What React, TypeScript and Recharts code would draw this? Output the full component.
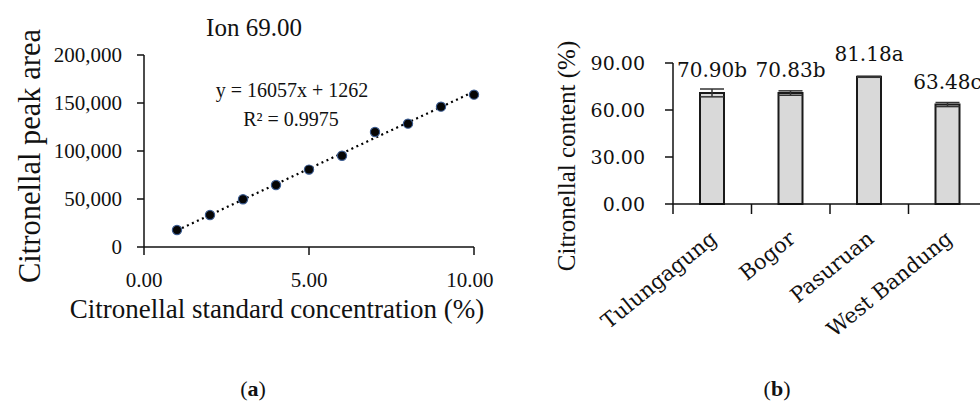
import React from 'react';
import {
  ComposedChart, Scatter, Line, XAxis, YAxis, BarChart, Bar, ErrorBar, LabelList,
} from 'recharts';

// (a) calibration curve, ion 69.00
const concentrations = [1, 2, 3, 4, 5, 6, 7, 8, 9, 10];
const peakAreas = [17700, 33300, 49700, 64600, 80600, 95100, 119800, 128500, 146200, 158700];
const slope = 16057;
const intercept = 1262;
const areaTicks = [0, 50000, 100000, 150000, 200000];
const concTicks = [0, 5, 10];

// (b) citronellal content by origin
const sites = ['Tulungagung', 'Bogor', 'Pasuruan', 'West Bandung'];
const contents = [70.9, 70.83, 81.18, 63.48];
const contentSd = [2.5, 1.4, 0.3, 1.3];
const letters = ['b', 'b', 'a', 'c'];
const contentTicks = [0, 30, 60, 90];

const calData = concentrations.map((c, i) => ({
  conc: c,
  area: peakAreas[i],
  fit: slope * c + intercept,
}));

const siteData = sites.map((s, i) => ({
  site: s,
  content: contents[i],
  sd: contentSd[i],
  label: contents[i].toFixed(2) + letters[i],
}));

const serif = '"Liberation Serif", "Times New Roman", serif';
const wide = '"DejaVu Serif", serif';
const ink = '#111';

const LW = 500, LH = 340;
const RW = 447, RH = 390, RY = 133;
const band = (RW - RY) / sites.length;

const Dot = (props: any) => {
  const { cx, cy } = props;
  if (cx == null || cy == null) return null;
  return <circle cx={cx} cy={cy} r={4.6} fill="#050505" stroke="#3b5b8f" strokeWidth={1.2} />;
};

const SiteTick = (props: any) => {
  const { x, y, payload } = props;
  const bx = x - band / 2;
  const tx = x + 6;
  const ty = y + 37;
  return (
    <g>
      <line x1={bx} y1={y} x2={bx} y2={y + 10} stroke={ink} strokeWidth={1.5} />
      <text
        x={tx}
        y={ty}
        textAnchor="end"
        transform={`rotate(-39 ${tx} ${ty})`}
        style={{ fontFamily: wide, fontSize: 21, fill: ink }}
      >
        {payload.value}
      </text>
    </g>
  );
};

const txt = (left: number, top: number, size: number, text: React.ReactNode, font = serif, rotate = 0) => (
  <div
    style={{
      position: 'absolute',
      left,
      top,
      transform: `translate(-50%, -50%) rotate(${rotate}deg)`,
      fontFamily: font,
      fontSize: size,
      lineHeight: 1,
      whiteSpace: 'nowrap',
      color: ink,
    }}
  >
    {text}
  </div>
);

export default function App() {
  return (
    <div style={{ position: 'absolute', left: 0, top: 0, width: 980, height: 403, overflow: 'hidden', background: '#fff' }}>
      <div style={{ position: 'absolute', left: 0, top: 0 }}>
        <ComposedChart width={LW} height={LH} data={calData} margin={{ top: 55, right: 26, left: 0, bottom: 0 }}>
          <XAxis
            type="number"
            dataKey="conc"
            domain={[0, 10]}
            ticks={concTicks}
            tickFormatter={(v: number) => v.toFixed(2)}
            height={93}
            tickSize={8}
            tickMargin={17}
            stroke={ink}
            strokeWidth={1.5}
            tick={{ fontFamily: serif, fontSize: 21, fill: ink }}
          />
          <YAxis
            type="number"
            domain={[0, 200000]}
            ticks={areaTicks}
            tickFormatter={(v: number) => v.toLocaleString('en-US')}
            width={144}
            tickSize={7}
            tickMargin={15}
            stroke={ink}
            strokeWidth={1.5}
            tick={{ fontFamily: serif, fontSize: 21, fill: ink }}
          />
          <Line dataKey="fit" stroke="#000" strokeWidth={2.2} strokeDasharray="2 3.5" dot={false} isAnimationActive={false} />
          <Scatter dataKey="area" shape={<Dot />} isAnimationActive={false} />
        </ComposedChart>
      </div>
      {txt(254, 27, 25, 'Ion 69.00')}
      {txt(292, 90, 20, 'y = 16057x + 1262')}
      {txt(291, 119, 20, 'R² = 0.9975')}
      {txt(30, 156, 30.5, 'Citronellal peak area', serif, -90)}
      {txt(277, 309, 27, 'Citronellal standard concentration (%)')}
      {txt(253, 389, 22, <span>(<b>a</b>)</span>)}

      <div style={{ position: 'absolute', left: 540, top: 0, width: 440, height: 403, overflow: 'hidden' }}>
        <BarChart width={RW} height={RH} data={siteData} margin={{ top: 63, right: 0, left: 0, bottom: 0 }} barCategoryGap={0}>
          <XAxis
            dataKey="site"
            height={RH - 63 - 141}
            tickLine={false}
            tickSize={0}
            tickMargin={0}
            interval={0}
            stroke={ink}
            strokeWidth={1.5}
            tick={<SiteTick />}
          />
          <YAxis
            type="number"
            domain={[0, 90]}
            ticks={contentTicks}
            tickFormatter={(v: number) => v.toFixed(2)}
            width={RY}
            tickSize={8}
            tickMargin={20}
            stroke={ink}
            strokeWidth={1.5}
            tick={{ fontFamily: wide, fontSize: 19, fill: ink }}
          />
          <Bar dataKey="content" fill="#d9d9d9" stroke="#1a1a1a" strokeWidth={2} barSize={24} isAnimationActive={false}>
            <ErrorBar dataKey="sd" width={12} stroke="#333" strokeWidth={1.5} />
            <LabelList dataKey="label" position="top" offset={16} style={{ fontFamily: wide, fontSize: 20, fill: ink }} />
          </Bar>
        </BarChart>
      </div>
      {txt(566, 156, 25, 'Citronellal content (%)', serif, -90)}
      {txt(777, 389, 22, <span>(<b>b</b>)</span>)}
    </div>
  );
}
